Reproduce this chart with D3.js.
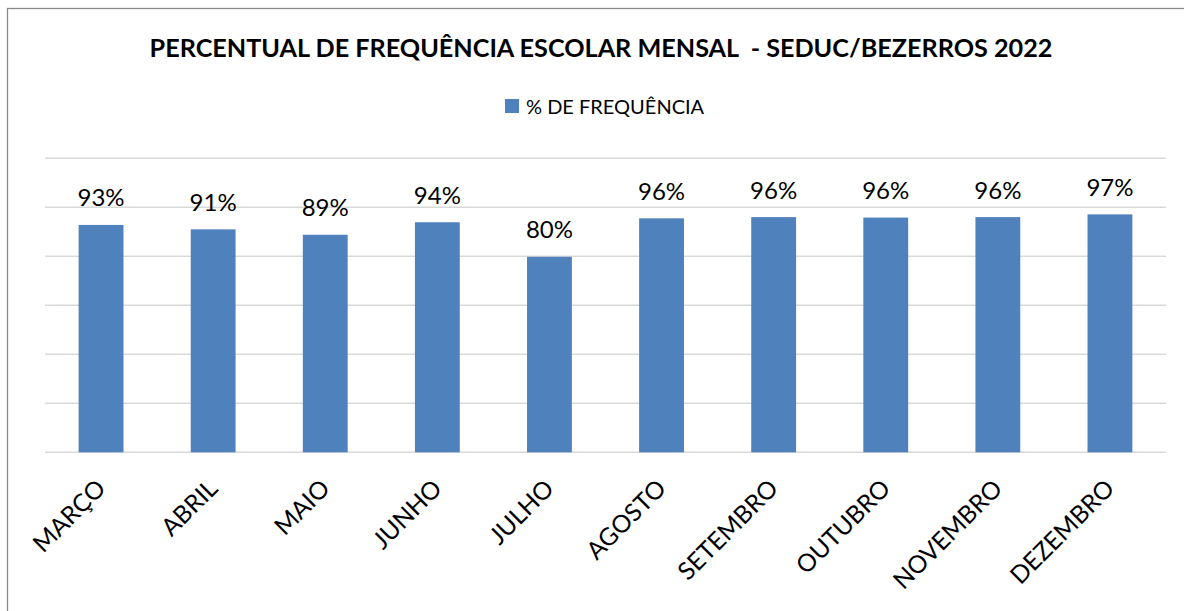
<!DOCTYPE html>
<html>
<head>
<meta charset="utf-8">
<script src="https://cdn.jsdelivr.net/npm/d3@7"></script>
<style>
  html, body { margin: 0; padding: 0; background: #fff; }
  svg { display: block; font-family: Lato, "Open Sans", sans-serif; }
</style>
</head>
<body>
<div id="chart"></div>
<script>
// dados do gráfico
const meses = ["MARÇO", "ABRIL", "MAIO", "JUNHO", "JULHO", "AGOSTO", "SETEMBRO", "OUTUBRO", "NOVEMBRO", "DEZEMBRO"];
const frequencia = [0.928, 0.910, 0.888, 0.939, 0.798, 0.955, 0.960, 0.958, 0.960, 0.971];
const gradeY = [0, 0.2, 0.4, 0.6, 0.8, 1.0, 1.2];
const titulo = "PERCENTUAL DE FREQUÊNCIA ESCOLAR MENSAL  - SEDUC/BEZERROS 2022";
const legenda = "% DE FREQUÊNCIA";

const width = 1184, height = 611;
const azul = "#4f81bd";

const svg = d3.select("#chart")
  .append("svg")
  .attr("width", width)
  .attr("height", height);

// moldura do gráfico (lados direito e inferior ficam fora da imagem)
svg.append("rect")
  .attr("x", 7.5)
  .attr("y", 8.5)
  .attr("width", 1200)
  .attr("height", 620)
  .attr("fill", "#fff")
  .attr("stroke", "#8a8a8a")
  .attr("stroke-width", 1.3);

const x = d3.scaleBand()
  .domain(meses)
  .range([45, 1166])
  .paddingInner(0.6)
  .paddingOuter(0.3);

const y = d3.scaleLinear()
  .domain([0, 1.2])
  .range([452.3, 158.3]);

// linhas de grade
svg.append("g")
  .selectAll("line")
  .data(gradeY)
  .join("line")
  .attr("x1", 45)
  .attr("x2", 1166)
  .attr("y1", d => y(d))
  .attr("y2", d => y(d))
  .attr("stroke", "#d9d9d9")
  .attr("stroke-width", 1.4);

const dados = meses.map((m, i) => ({ mes: m, valor: frequencia[i] }));

// barras
svg.append("g")
  .selectAll("rect")
  .data(dados)
  .join("rect")
  .attr("x", d => x(d.mes))
  .attr("y", d => y(d.valor))
  .attr("width", x.bandwidth())
  .attr("height", d => y(0) - y(d.valor))
  .attr("fill", azul);

// rótulos de dados
svg.append("g")
  .selectAll("text")
  .data(dados)
  .join("text")
  .attr("x", d => x(d.mes) + x.bandwidth() / 2)
  .attr("y", d => y(d.valor) - 18.5)
  .attr("text-anchor", "middle")
  .attr("font-size", "24px")
  .attr("fill", "#000")
  .text(d => d3.format(".0%")(d.valor));

// rótulos do eixo x (girados)
svg.append("g")
  .selectAll("text")
  .data(meses)
  .join("text")
  .attr("transform", d => `translate(${x(d) + x.bandwidth() / 2 + 6},490) rotate(-45)`)
  .attr("text-anchor", "end")
  .attr("font-size", "24.5px")
  .attr("fill", "#000")
  .text(d => d);

// título
svg.append("text")
  .attr("x", 601)
  .attr("y", 57)
  .attr("text-anchor", "middle")
  .attr("font-size", "25.2px")
  .attr("font-weight", "bold")
  .attr("fill", "#000")
  .style("white-space", "pre")
  .text(titulo);

// legenda
const leg = svg.append("g");
leg.append("rect")
  .attr("x", 505)
  .attr("y", 99)
  .attr("width", 14)
  .attr("height", 14)
  .attr("fill", azul);
leg.append("text")
  .attr("x", 526)
  .attr("y", 114)
  .attr("font-size", "20px")
  .attr("fill", "#000")
  .text(legenda);
</script>
</body>
</html>
